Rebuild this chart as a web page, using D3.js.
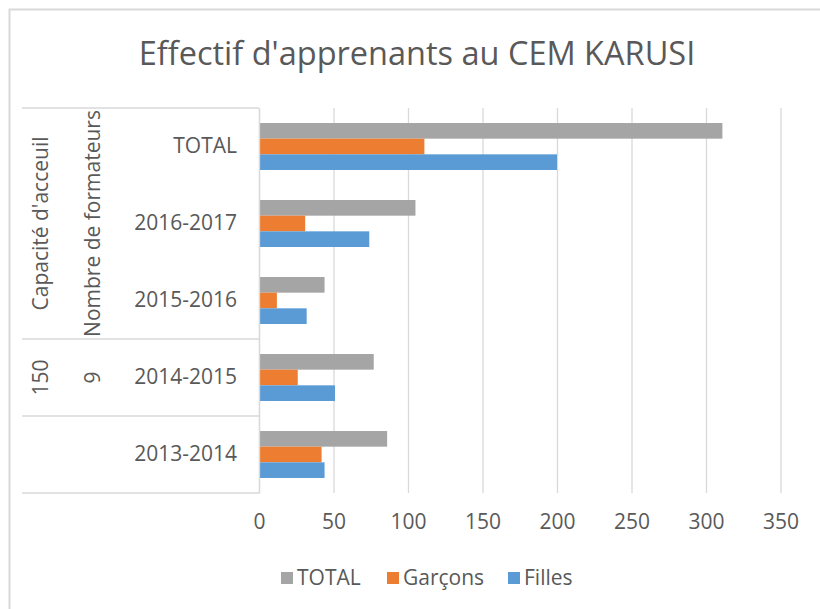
<!DOCTYPE html>
<html>
<head>
<meta charset="utf-8">
<script src="https://cdn.jsdelivr.net/npm/d3@7"></script>
<style>
  html, body { margin: 0; padding: 0; background: #ffffff; }
  svg { display: block; }
</style>
</head>
<body>
<div id="chart"></div>
<script>

// data
const categories = ["TOTAL", "2016-2017", "2015-2016", "2014-2015", "2013-2014"];
const total   = [311, 105, 44, 77, 86];
const garcons = [111, 31, 12, 26, 42];
const filles  = [200, 74, 32, 51, 44];
const seriesNames = ["TOTAL", "Garçons", "Filles"];
const xTicks = [0, 50, 100, 150, 200, 250, 300, 350];

// outer levels of the category axis (first and last category of each block)
const capaciteGroups   = [["Capacité d'acceuil", "TOTAL", "2015-2016"], ["150", "2014-2015", "2014-2015"], ["", "2013-2014", "2013-2014"]];
const formateursGroups = [["Nombre de formateurs", "TOTAL", "2015-2016"], ["9", "2014-2015", "2014-2015"], ["", "2013-2014", "2013-2014"]];


const W = 820, H = 609;
const fontFamily = "'Open Sans', 'Noto Sans', sans-serif";
const labelSize = 21;
const textColor = "#595959";
const lineColor = "#d9d9d9";
const colors = {"TOTAL": "#a5a5a5", "Garçons": "#ed7d31", "Filles": "#5b9bd5"};

const plot = {left: 259, right: 780.5, top: 108, bottom: 493};

const svg = d3.select("#chart").append("svg")
  .attr("width", W)
  .attr("height", H);

// chart frame
svg.append("rect")
  .attr("x", 9.5).attr("y", 9.5)
  .attr("width", 840).attr("height", 640)
  .attr("fill", "#ffffff")
  .attr("stroke", lineColor)
  .attr("stroke-width", 2);

// title
svg.append("text")
  .attr("x", 417)
  .attr("y", 65)
  .attr("text-anchor", "middle")
  .attr("font-family", fontFamily)
  .attr("font-size", 32.5)
  .attr("fill", textColor)
  .text("Effectif d'apprenants au CEM KARUSI");


const x = d3.scaleLinear()
  .domain([0, 350])
  .range([plot.left, plot.right]);

const y = d3.scaleBand()
  .domain(categories)
  .range([plot.top, plot.bottom])
  .paddingInner(0.39)
  .paddingOuter(0.195);

const ySeries = d3.scaleBand()
  .domain(seriesNames)
  .range([0, y.bandwidth()]);


// gridlines
const grid = svg.append("g")
  .attr("transform", "translate(0," + plot.bottom + ")")
  .call(d3.axisBottom(x).tickValues(xTicks).tickSize(-(plot.bottom - plot.top)).tickFormat(""));
grid.select(".domain").remove();
grid.selectAll("line").attr("stroke", lineColor).attr("stroke-width", 1.3);

// x tick labels
const xAxis = svg.append("g")
  .attr("transform", "translate(0," + plot.bottom + ")")
  .call(d3.axisBottom(x).tickValues(xTicks).tickSize(0).tickPadding(21));
xAxis.select(".domain").remove();
xAxis.selectAll("text")
  .attr("font-family", fontFamily)
  .attr("font-size", labelSize)
  .attr("fill", textColor);


// bars
const rows = categories.map(function (c, i) {
  return {cat: c, values: [total[i], garcons[i], filles[i]]};
});

const groups = svg.selectAll("g.bars")
  .data(rows)
  .enter()
  .append("g")
  .attr("class", "bars")
  .attr("transform", function (d) { return "translate(0," + y(d.cat) + ")"; });

groups.selectAll("rect")
  .data(function (d) { return d.values.map(function (v, j) { return {name: seriesNames[j], value: v}; }); })
  .enter()
  .append("rect")
  .attr("x", x(0))
  .attr("y", function (d) { return ySeries(d.name); })
  .attr("width", function (d) { return x(d.value) - x(0); })
  .attr("height", ySeries.bandwidth())
  .attr("fill", function (d) { return colors[d.name]; });


// category axis (inner level)
const yAxis = svg.append("g")
  .attr("transform", "translate(" + plot.left + ",0)")
  .call(d3.axisLeft(y).tickSize(0).tickPadding(22));
yAxis.select(".domain").attr("stroke", lineColor).attr("stroke-width", 1.3);
yAxis.selectAll("text")
  .attr("font-family", fontFamily)
  .attr("font-size", labelSize)
  .attr("fill", textColor);

// block boundaries of the outer levels
const step = y.step();
function blockTop(cat) { return y(cat) - y.paddingOuter() * step; }
function blockBottom(cat) { return y(cat) + y.bandwidth() + y.paddingOuter() * step; }

const bounds = [plot.top].concat(capaciteGroups.map(function (g) { return blockBottom(g[2]); }));
svg.selectAll("line.sep")
  .data(bounds)
  .enter()
  .append("line")
  .attr("class", "sep")
  .attr("x1", 22)
  .attr("x2", plot.left)
  .attr("y1", function (d) { return d; })
  .attr("y2", function (d) { return d; })
  .attr("stroke", lineColor)
  .attr("stroke-width", 1.3);

function drawLevel(data, cx) {
  svg.selectAll(null)
    .data(data)
    .enter()
    .append("text")
    .attr("transform", function (g) {
      const cy = (blockTop(g[1]) + blockBottom(g[2])) / 2;
      return "translate(" + cx + "," + cy + ") rotate(-90)";
    })
    .attr("dy", "0.35em")
    .attr("text-anchor", "middle")
    .attr("font-family", fontFamily)
    .attr("font-size", labelSize)
    .attr("fill", textColor)
    .text(function (g) { return g[0]; });
}
drawLevel(capaciteGroups, 41);
drawLevel(formateursGroups, 93);


// legend
const legendX = [281, 387, 508];
const legend = svg.selectAll("g.legend")
  .data(seriesNames)
  .enter()
  .append("g")
  .attr("class", "legend")
  .attr("transform", function (d, i) { return "translate(" + legendX[i] + ",572)"; });

legend.append("rect")
  .attr("width", 12)
  .attr("height", 12)
  .attr("fill", function (d) { return colors[d]; });

legend.append("text")
  .attr("x", 16)
  .attr("y", 13)
  .attr("font-family", fontFamily)
  .attr("font-size", labelSize)
  .attr("fill", textColor)
  .text(function (d) { return d; });

</script>
</body>
</html>
